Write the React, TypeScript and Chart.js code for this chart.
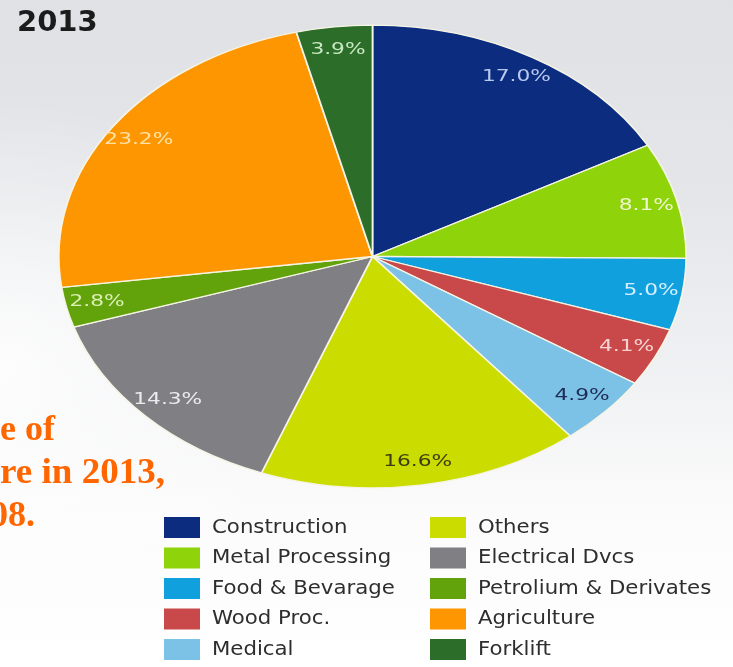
import React, { useEffect, useRef } from "react";
import { Chart, registerables } from "chart.js";

Chart.register(...registerables);

const chartTitle = "2013";
const categories = [
  "Construction",
  "Metal Processing",
  "Food & Bevarage",
  "Wood Proc.",
  "Medical",
  "Others",
  "Electrical Dvcs",
  "Petrolium & Derivates",
  "Agriculture",
  "Forklift",
];
const shares = [17.0, 8.1, 5.0, 4.1, 4.9, 16.6, 14.3, 2.8, 23.2, 3.9];
const sliceColors = [
  "#0c2d7f",
  "#8fd30a",
  "#0fa0dd",
  "#c94849",
  "#7cc2e6",
  "#cbdc00",
  "#7f7f84",
  "#62a30c",
  "#fd9600",
  "#2c6d2a",
];
const labelColors = [
  "#b9c9ee",
  "#eef7cf",
  "#d6efff",
  "#f6d2d2",
  "#1d2b55",
  "#3b3d10",
  "#ececec",
  "#dcefb6",
  "#ffe2a6",
  "#c9e8c2",
];
const noteLines = ["e of", "re in 2013,", "08."];

const STRETCH_X = 1.356;

const stretchPlugin = {
  id: "stretchPie",
  beforeDatasetsDraw(chart: any) {
    const ctx = chart.ctx;
    const arc = chart.getDatasetMeta(0).data[0];
    ctx.save();
    ctx.translate(arc.x, arc.y);
    ctx.scale(STRETCH_X, 1);
    ctx.translate(-arc.x, -arc.y);
  },
  afterDatasetsDraw(chart: any) {
    const ctx = chart.ctx;
    const meta = chart.getDatasetMeta(0);
    ctx.font = "16px 'DejaVu Sans'";
    ctx.textAlign = "center";
    ctx.textBaseline = "middle";
    meta.data.forEach((a: any, i: number) => {
      const p = a.getProps(["startAngle", "endAngle", "outerRadius", "x", "y"], true);
      const mid = (p.startAngle + p.endAngle) / 2;
      const r = p.outerRadius * 0.9;
      ctx.fillStyle = labelColors[i];
      ctx.fillText(shares[i].toFixed(1) + "%", p.x + Math.cos(mid) * r, p.y + Math.sin(mid) * r);
    });
    ctx.restore();
  },
  afterDraw(chart: any) {
    const ctx = chart.ctx;
    // title
    ctx.save();
    ctx.font = "bold 29px 'DejaVu Sans'";
    ctx.fillStyle = "#1b1b1b";
    ctx.textAlign = "left";
    ctx.textBaseline = "alphabetic";
    ctx.fillText(chartTitle, 17, 31);

    // orange note (partly cut off at the left edge)
    ctx.font = "bold 36px 'Liberation Serif'";
    ctx.fillStyle = "#ff6600";
    ctx.textAlign = "right";
    const noteRight = [55, 165, 35];
    const noteLeft = [0, 0, -10];
    const noteBase = [440, 483, 526];
    noteLines.forEach((t, i) => {
      const w = ctx.measureText(t).width;
      const target = noteRight[i] - noteLeft[i];
      const sx = i === 1 ? target / w : 1;
      ctx.save();
      ctx.translate(noteRight[i], noteBase[i]);
      ctx.scale(sx, 1);
      ctx.fillText(t, 0, 0);
      ctx.restore();
    });

    // legend: two columns of five
    const colX = [164, 430];
    const top0 = 517;
    const pitch = 30.5;
    ctx.textAlign = "left";
    ctx.textBaseline = "middle";
    ctx.font = "19px 'DejaVu Sans'";
    categories.forEach((name, i) => {
      const col = Math.floor(i / 5);
      const row = i % 5;
      const x = colX[col];
      const y = top0 + row * pitch;
      ctx.fillStyle = sliceColors[i];
      ctx.fillRect(x, y, 36, 21);
      ctx.save();
      ctx.translate(x + 48, y + 11);
      ctx.scale(1.12, 1);
      ctx.fillStyle = "#2e2e2e";
      ctx.fillText(name, 0, 0);
      ctx.restore();
    });
    ctx.restore();
  },
};

export default function App() {
  const ref = useRef<HTMLCanvasElement | null>(null);

  useEffect(() => {
    if (!ref.current) return;
    const chart = new Chart(ref.current, {
      type: "pie",
      data: {
        labels: categories,
        datasets: [
          {
            data: shares,
            backgroundColor: sliceColors,
            borderColor: "#f6f4e4",
            borderWidth: 1.3,
            clip: false as any,
          },
        ],
      },
      options: {
        animation: false,
        responsive: true,
        maintainAspectRatio: false,
        layout: { padding: { left: 140, right: 128, top: 24.5, bottom: 178.5 } },
        plugins: {
          legend: { display: false },
          title: { display: false },
          tooltip: { enabled: false },
        },
        events: [],
      },
      plugins: [stretchPlugin],
    });
    return () => chart.destroy();
  }, []);

  return (
    <div
      style={{
        position: "fixed",
        left: 0,
        top: 0,
        width: 733,
        height: 667,
        overflow: "hidden",
        background:
          "radial-gradient(ellipse 45% 40% at 0% 55%, rgba(255,255,255,0.85), rgba(255,255,255,0)), linear-gradient(180deg, #dfe1e5 0%, #e4e6e9 30%, #f1f2f4 58%, #fbfbfb 76%, #ffffff 100%)",
      }}
    >
      <canvas ref={ref} style={{ display: "block", width: 733, height: 667 }} />
    </div>
  );
}
